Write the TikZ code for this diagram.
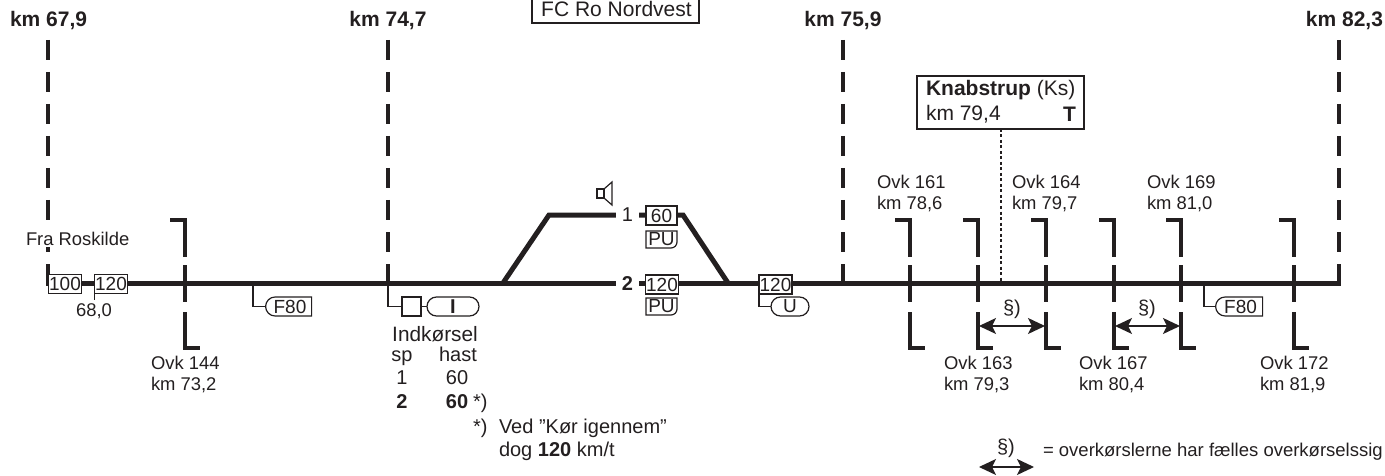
\documentclass[tikz,border=0pt]{standalone}
\usepackage{fontspec}
\setmainfont{Liberation Sans}
\usetikzlibrary{shapes.misc, arrows.meta, positioning}
\definecolor{ink}{HTML}{231F20}

\begin{document}
\begin{tikzpicture}[x=1pt, y=-1pt, ink, text=ink,
      every node/.style={inner sep=0pt, outer sep=0pt},
      lbl/.style={font=\fontsize{18.4}{21}\selectfont, align=left},
      big/.style={font=\fontsize{21}{24}\selectfont},
      blk/.style={font=\fontsize{20}{22}\selectfont, anchor=base},
      blkb/.style={font=\fontsize{20}{22}\selectfont\bfseries, anchor=base},
      kmlbl/.style={font=\fontsize{21}{24}\selectfont\bfseries},
      track/.style={line width=5pt},
      kmline/.style={line width=4.5pt, dash pattern=on 20pt off 12pt},
      ovk/.style={line width=4pt},
      thinl/.style={line width=1.2pt},
      signbox/.style={draw, line width=1.2pt, fill=white, minimum width=33pt, minimum height=19pt,
                      font=\fontsize{19}{20}\selectfont},
      pill/.style={draw, line width=1.2pt, fill=white, rounded rectangle, minimum height=19pt,
                   font=\fontsize{19}{20}\selectfont},
      halfpill/.style={pill, rounded rectangle east arc=none},
      pu/.style={minimum width=31pt, minimum height=17pt, font=\fontsize{19}{20}\selectfont},
      both/.style={{Stealth[length=17pt, width=16pt, inset=4pt]}-{Stealth[length=17pt, width=16pt, inset=4pt]}, line width=1.2pt}
    ]
    \useasboundingbox (0,0) rectangle (1385,476);

    % km lines
    \foreach \x in {48,388,843,1339}
      \draw[kmline] (\x,40) -- (\x,284);

    % km labels
    \node[kmlbl, anchor=west] (kma) at (10,21) {km 67,9};
    \node[kmlbl] (kmb) at (388,21) {km 74,7};
    \node[kmlbl] (kmc) at (843,21) {km 75,9};
    \node[kmlbl, anchor=east] (kmd) at (1383,21) {km 82,3};
    \node[signbox, minimum width=167pt, minimum height=30pt] (fc) at (615.5,8) {};
    \node[big, anchor=base] (fctxt) at (616.5,17) {FC Ro Nordvest};

    % Spor
    \coordinate (west) at (46,283);
    \coordinate (east) at (1341,283);
    \coordinate (swa) at (503,283);
    \coordinate (swb) at (549,215);
    \coordinate (swc) at (683,215);
    \coordinate (swd) at (728,283);
    \draw[track] (west) -- (east);
    \draw[track] (swa) -- (swb) -- (swc) -- (swd);

    % Spornumre
    \node[fill=white, minimum width=23pt, minimum height=14pt, font=\fontsize{20}{22}\selectfont] (spa) at (627.5,215) {1};
    \node[fill=white, minimum width=23pt, minimum height=14pt, font=\fontsize{20}{22}\selectfont\bfseries] (spb) at (627.5,284) {2};

    % Overkoersler
    \foreach \x in {185,910,978,1046,1114,1181,1294} {
      \draw[ovk] (\x-15,220) -- (\x,220) -- (\x,257);
      \draw[ovk] (\x,265) -- (\x,302);
      \draw[ovk] (\x,312) -- (\x,348) -- (\x+15,348);
    }
    \node[lbl, anchor=west] (ovka) at (151,375) {Ovk 144\\km 73,2};
    \node[lbl, anchor=west] (ovkb) at (877,194) {Ovk 161\\km 78,6};
    \node[lbl, anchor=west] (ovkc) at (944,375) {Ovk 163\\km 79,3};
    \node[lbl, anchor=west] (ovkd) at (1012,194) {Ovk 164\\km 79,7};
    \node[lbl, anchor=west] (ovke) at (1079,375) {Ovk 167\\km 80,4};
    \node[lbl, anchor=west] (ovkf) at (1147,194) {Ovk 169\\km 81,0};
    \node[lbl, anchor=west] (ovkg) at (1260,375) {Ovk 172\\km 81,9};

    % Hastighedsskilte
    \node[lbl, fill=white, anchor=west, inner xsep=2pt, inner ysep=1pt] (fra) at (24,239) {Fra Roskilde};
    \node[signbox] (va) at (65,284) {100};
    \node[signbox] (vb) at (111,284) {120};
    \draw[thinl] (vb.south west) -- ++(0,6) coordinate (vbt);
    \node[lbl] (vbkm) at (94,311) {68,0};

    % F80
    \coordinate (fa) at (253,283);
    \node[halfpill, minimum width=46pt] (fabox) at (290,306.5) {F80};
    \draw[thinl] (fa) |- (fabox.west);
    \coordinate (fb) at (1204,283);
    \node[halfpill, minimum width=47pt] (fbbox) at (1240.5,306.5) {F80};
    \draw[thinl] (fb) |- (fbbox.west);

    % Indkoersel
    \coordinate (ia) at (388,283);
    \node[signbox, minimum width=19pt] (isq) at (411.5,306.5) {};
    \node[pill, minimum width=52pt, font=\fontsize{20}{22}\selectfont\bfseries] (ipl) at (453,306.5) {I};
    \draw[thinl] (ia) |- (isq.west);
    \draw[thinl] (isq) -- (ipl);
    \node[blk, font=\fontsize{20.8}{22}\selectfont] (ind) at (435,341) {Indkørsel};
    \node[blk] (sp) at (402,361) {sp};
    \node[blk] (hast) at (458,361) {hast};
    \node[blk] (spone) at (402,384.5) {1};
    \node[blk] (hone) at (457,384.5) {60};
    \node[blkb] (sptwo) at (402,408) {2};
    \node[blkb] (htwo) at (457,408) {60};
    \node[blk, anchor=base west] (stara) at (473,408) {*)};
    \node[blk, anchor=base west] (starb) at (473,433) {*)};
    \node[blk, anchor=base west] (ved) at (499,433) {Ved ”Kør igennem”};
    \node[blk, anchor=base west] (dog) at (499,456) {dog \textbf{120} km/t};

    % Spor 1 og 2 skilte
    \node[signbox, minimum width=31pt] (vc) at (661.5,215.5) {60};
    \node[signbox] (vd) at (662,284.5) {120};
    \foreach \n/\y in {pua/239.5, pub/306.5} {
      \node[pu] (\n) at (661.5,\y) {PU};
      \draw[thinl] (\n.north west) -- (\n.north east) -- ([yshift=6pt]\n.south east)
        arc[start angle=0, end angle=-90, radius=6pt] -- (\n.south west) -- cycle;
    }

    % Hoejttaler
    \draw[thinl] (597,189) rectangle (604,198);
    \draw[thinl] (604,189) -- (612,182) -- (612,205) -- (604,198);

    % 120 U
    \node[signbox] (ve) at (775.5,284.5) {120};
    \node[pill, minimum width=38pt] (ue) at (790,306.5) {U};
    \draw[thinl] (ve.south west) |- (ue.west);

    % Knabstrup
    \node[draw, line width=1.2pt, fill=white, minimum width=167pt, minimum height=53pt] (ks) at (1000.5,102.5) {};
    \node[big, anchor=west] (ksa) at (926,90) {\textbf{Knabstrup} (Ks)};
    \node[big, anchor=west] (ksb) at (926,114) {km 79,4};
    \node[big, anchor=east, font=\fontsize{21}{24}\selectfont\bfseries] (ksc) at (1076,114) {T};
    \coordinate (ksd) at (1001,281);
    \draw[line width=2.6pt, dash pattern=on 3pt off 2.5pt] (ks.south -| ksd) -- (ksd);

    % Paragraf
    \coordinate (pa) at (979,326);
    \coordinate (pb) at (1045,326);
    \coordinate (pc) at (1115,326);
    \coordinate (pd) at (1180,326);
    \draw[both] (pa) -- (pb);
    \draw[both] (pc) -- (pd);
    \node[blk] (para) at (1012,314) {§)};
    \node[blk] (parb) at (1147,314) {§)};

    % Forklaring
    \coordinate (pe) at (979,467);
    \coordinate (pf) at (1034,467);
    \draw[both] (pe) -- (pf);
    \node[blk] (parc) at (1006,453) {§)};
    \node[lbl, anchor=west, font=\fontsize{18.5}{21}\selectfont] (leg) at (1043,452) {= overkørslerne har fælles overkørselssig};
  \end{tikzpicture}
\end{document}
